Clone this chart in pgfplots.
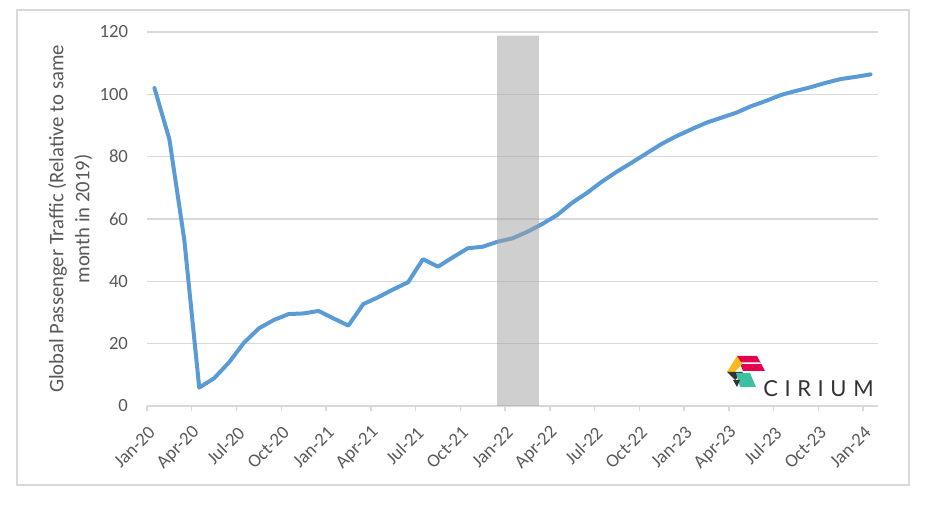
\documentclass[border=0pt]{standalone}
\usepackage{fontspec}
\setmainfont{Carlito}
\newfontfamily\logofont{Lato}
\usepackage{pgfplots}
\pgfplotsset{compat=1.18}
\definecolor{linebl}{HTML}{5B9BD5}
\definecolor{gridg}{HTML}{D9D9D9}
\definecolor{txtg}{HTML}{595959}
\definecolor{bandg}{HTML}{A0A0A0}
\definecolor{logored}{HTML}{E4004F}
\definecolor{logoyel}{HTML}{F8BA1C}
\definecolor{logodark}{HTML}{333333}
\definecolor{logoteal}{HTML}{3EC1A3}
\pgfplotstableread{
m v
0 102
1 85.6
2 53.3
3 5.9
4 8.9
5 14.0
6 20.3
7 24.9
8 27.6
9 29.5
10 29.7
11 30.5
12 28.1
13 25.8
14 32.7
15 34.9
16 37.4
17 39.7
18 47.1
19 44.7
20 47.7
21 50.6
22 51.1
23 52.7
24 53.8
25 55.9
26 58.4
27 61.3
28 65.2
29 68.4
30 72.0
31 75.2
32 78.1
33 81.1
34 84.1
35 86.6
36 88.8
37 90.9
38 92.5
39 94.1
40 96.2
41 97.9
42 99.8
43 101.1
44 102.3
45 103.7
46 104.9
47 105.6
48 106.4
}\traffic
\begin{document}
\begin{tikzpicture}
\path[use as bounding box] (0,0) rectangle (693.75pt,379.5pt);
\draw[gridg, line width=1.5pt] (12.75pt,372pt) rectangle (681.75pt,15.75pt);
\begin{axis}[
  at={(110.25pt,75pt)}, anchor=south west,
  scale only axis, width=548.25pt, height=280.5pt,
  xmin=-0.5, xmax=48.5, ymin=0, ymax=120,
  ytick={0,20,...,120},
  xtick={-0.5,2.5,...,47.6},
  xticklabels={Jan-20,Apr-20,Jul-20,Oct-20,Jan-21,Apr-21,Jul-21,Oct-21,Jan-22,Apr-22,Jul-22,Oct-22,Jan-23,Apr-23,Jul-23,Oct-23,Jan-24},
  axis line style={draw=none},
  ymajorgrids, grid style={gridg, line width=1.1pt},
  xtick pos=bottom, tick align=outside, major tick length=3.75pt,
  xtick style={gridg, line width=1.1pt},
  ytick style={draw=none},
  /pgf/number format/assume math mode=true,
  ticklabel style={font=\fontsize{14}{16.8}\selectfont, text=txtg},
  yticklabel style={xshift=-7pt},
  xticklabel style={inner sep=0pt, xshift=3.75pt, yshift=-14pt, rotate=45, anchor=east},
  ylabel={Global Passenger Traffic (Relative to same\\month in 2019)},
  ylabel style={align=center, font=\fontsize{15.5}{19.5}\selectfont, text=txtg,
    at={(axis description cs:-0.105,0.5)}, anchor=center},
  clip=false,
]
\addplot[linebl, line width=3pt, line join=round, line cap=round] table[x=m,y=v] {\traffic};
\addplot[fill=bandg, fill opacity=0.5, draw=none] coordinates {(22.97,0) (22.97,118.8) (25.77,118.8) (25.77,0)} \closedcycle;
\end{axis}
\begin{scope}[shift={(0,379.5pt)}, x=0.75pt, y=-0.75pt]
  \fill[logored] (737,356) -- (757,356) -- (765,371) -- (743,371) -- cycle;
  \fill[white] (741,362.5) -- (760,362.5) -- (761,364) -- (742,364) -- cycle;
  \fill[logoyel] (737,356) -- (742,364) -- (735,372) -- (727,372) -- cycle;
  \fill[logodark] (727,372) -- (743,372) -- (735,380) -- cycle;
  \fill[logoteal] (736,373) -- (750,373) -- (756,387) -- (740,387) -- cycle;
  \fill[logodark] (733,380) -- (740,380) -- (737,387) -- cycle;
  \node[anchor=base west, inner sep=0pt, text=logodark, font=\logofont\fontsize{16.5}{17}\selectfont\addfontfeature{LetterSpace=30}] at (763,397) {CIRIUM};
\end{scope}
\end{tikzpicture}
\end{document}
